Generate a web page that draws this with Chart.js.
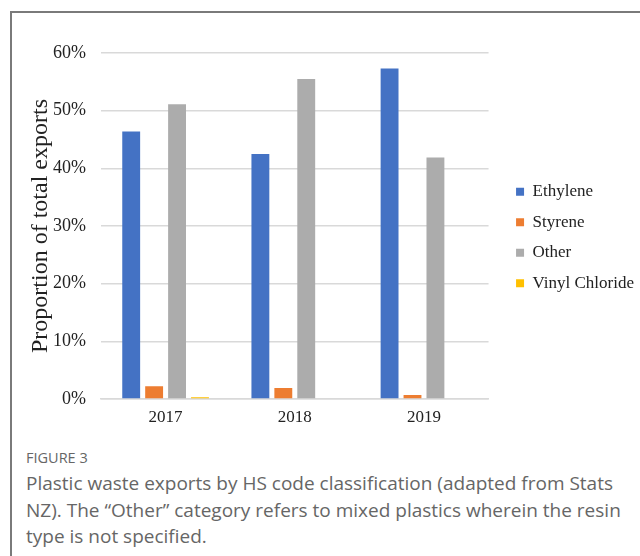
<!DOCTYPE html>
<html>
<head>
<meta charset="utf-8">
<script src="https://cdn.jsdelivr.net/npm/chart.js@4.4.1/dist/chart.umd.min.js"></script>
<style>
    html, body { margin: 0; padding: 0; background: #fff; }
    body { width: 640px; height: 556px; position: relative; overflow: hidden; }
    .frame {
        position: absolute; left: 10px; top: 11px; right: -5px; bottom: -5px;
        border-top: 2px solid #7a7a7a; border-left: 2px solid #7a7a7a;
    }
    #chartBox { position: absolute; left: 0; top: 0; width: 640px; height: 440px; }
    .caption {
        position: absolute; left: 26px; top: 447px;
        font-family: "Open Sans", Lato, sans-serif; color: #666;
    }
    .caption .fig { font-size: 14.5px; line-height: 21px; }
    .caption .txt { font-size: 19px; line-height: 26.5px; margin-top: 2px; white-space: nowrap; }
</style>
</head>
<body>
<div class="frame"></div>
<div id="chartBox"><canvas id="exportsChart" width="640" height="440"></canvas></div>
<div class="caption">
    <div class="fig">FIGURE 3</div>
    <div class="txt">Plastic waste exports by HS code classification (adapted from Stats<br>NZ). The “Other” category refers to mixed plastics wherein the resin<br>type is not specified.</div>
</div>
<script>
// Data (proportion of total exports, %)
const years = ['2017', '2018', '2019'];
const ethylene = [46.4, 42.5, 57.3];
const styrene = [2.2, 1.9, 0.7];
const other = [51.1, 55.5, 41.9];
const vinylChloride = [0.3, 0, 0];
const yTicks = [0, 10, 20, 30, 40, 50, 60];

const serif = '"Liberation Serif", "Times New Roman", serif';

function bar(label, data, color) {
    return {
        label: label,
        data: data,
        backgroundColor: color,
        borderWidth: 0,
        categoryPercentage: 0.71,
        barPercentage: 0.78
    };
}

// nudge the legend a bit right/up, like the original figure
const legendShift = {
    id: 'legendShift',
    afterLayout(chart) {
        const lg = chart.legend;
        if (!lg) return;
        lg.left += 14; lg.right += 14;
        lg.top -= 9; lg.bottom -= 9;
    }
};

const ctx = document.getElementById('exportsChart');
new Chart(ctx, {
    type: 'bar',
    data: {
        labels: years,
        datasets: [
            bar('Ethylene', ethylene, '#4472c4'),
            bar('Styrene', styrene, '#ed7d31'),
            bar('Other', other, '#acacac'),
            bar('Vinyl Chloride', vinylChloride, '#ffc000')
        ]
    },
    plugins: [legendShift],
    options: {
        responsive: false,
        animation: false,
        layout: { padding: { top: 53, left: 0, right: 10, bottom: 0 } },
        plugins: {
            legend: {
                position: 'right',
                labels: {
                    font: { family: serif, size: 17 },
                    color: '#222',
                    boxWidth: 8,
                    boxHeight: 8,
                    padding: 13.5
                }
            },
            tooltip: { enabled: false }
        },
        scales: {
            x: {
                grid: { display: false, drawTicks: false },
                border: { color: '#d9d9d9', width: 1.5 },
                ticks: {
                    font: { family: serif, size: 17 },
                    color: '#222',
                    padding: 8
                },
                afterFit: function(scale) { scale.height = 41; }
            },
            y: {
                min: 0,
                max: 60,
                afterBuildTicks: function(scale) {
                    scale.ticks = yTicks.map(v => ({ value: v }));
                },
                grid: { color: '#d9d9d9', lineWidth: 1.5, drawTicks: false },
                border: { display: false },
                ticks: {
                    font: { family: serif, size: 18 },
                    color: '#222',
                    padding: 15,
                    callback: function(v) { return v + '%'; }
                },
                title: {
                    display: true,
                    text: 'Proportion of total exports',
                    font: { family: serif, size: 24 },
                    color: '#222',
                    padding: { top: 26, bottom: 0 }
                },
                afterFit: function(scale) { scale.width = 101; }
            }
        }
    }
});
</script>
</body>
</html>
